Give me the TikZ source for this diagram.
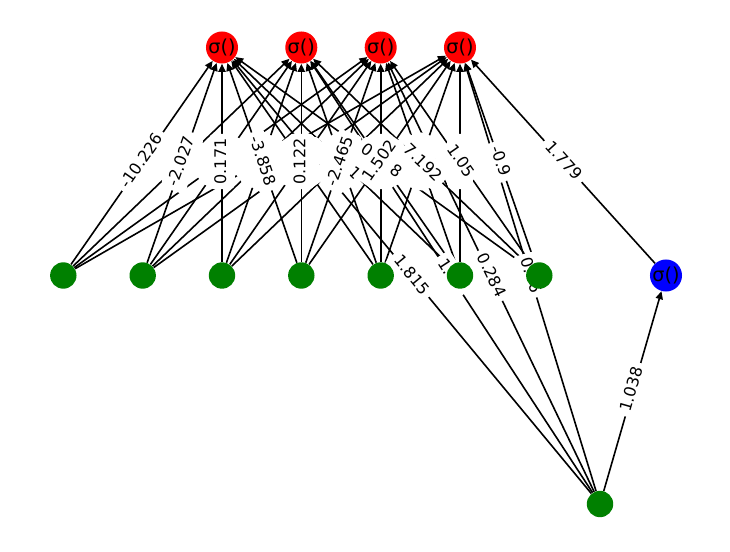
\documentclass[tikz,border=0pt]{standalone}
\usepackage{fontspec}
\setmainfont{DejaVu Sans}
\usetikzlibrary{arrows.meta}
\definecolor{mplred}{RGB}{255,0,0}
\definecolor{mplgreen}{RGB}{0,128,0}
\definecolor{mplblue}{RGB}{0,0,255}
\pgfdeclarelayer{edges}
\pgfdeclarelayer{labels}
\pgfsetlayers{edges,labels,main}
\begin{document}
\begin{tikzpicture}[x=0.625pt,y=-0.625pt,
  neuron/.style={circle,minimum size=16.5pt,inner sep=0pt,font=\fontsize{12}{14}\selectfont},
  innode/.style={neuron,fill=mplgreen},
  outnode/.style={neuron,fill=mplred},
  midnode/.style={neuron,fill=mplblue},
  wire/.style={line width=1pt,-{Triangle[length=5pt,width=4.5pt]}},
  elabel/.style={midway,sloped,fill=white,rounded corners=3pt,inner sep=3pt,
    text height=0.76em,text depth=0.24em,font=\fontsize{10}{12}\selectfont},
]
\useasboundingbox (0,0) rectangle (730,552);
% nodes
\foreach \i/\x in {0/63.3,1/142.7,2/222,3/301.3,4/380.7,5/460,6/539.3}
  \node[innode] (h\i) at (\x,275.5) {};
\foreach \j/\x in {0/222,1/301.3,2/380.7,3/460}
  \node[outnode] (o\j) at (\x,47.5) {σ()};
\node[midnode] (m) at (666,275.5) {σ()};
\node[innode] (b) at (600,504) {};
% edges
\begin{pgfonlayer}{edges}
\foreach \i in {0,...,6}
  \foreach \j in {0,...,3}
    \draw[wire] (h\i) -- (o\j);
\foreach \j in {0,...,3}
  \draw[wire] (b) -- (o\j);
\draw[wire] (b) -- (m);
\draw[wire] (m) -- (o3);
\end{pgfonlayer}
% edge labels
\begin{pgfonlayer}{labels}
\path (h0.center) -- (o0.center) node[elabel] (l00) {-10.226};
\path (h0.center) -- (o1.center) node[elabel] (l01) {\phantom{0.000}};
\path (h0.center) -- (o2.center) node[elabel] (l02) {\phantom{0.000}};
\path (h0.center) -- (o3.center) node[elabel] (l03) {\phantom{0.000}};
\path (h1.center) -- (o0.center) node[elabel] (l10) {-2.027};
\path (h1.center) -- (o1.center) node[elabel] (l11) {\phantom{0.000}};
\path (h1.center) -- (o2.center) node[elabel] (l12) {\phantom{0.000}};
\path (h1.center) -- (o3.center) node[elabel] (l13) {\phantom{0.000}};
\path (h2.center) -- (o0.center) node[elabel] (l20) {0.171};
\path (h2.center) -- (o1.center) node[elabel] (l21) {\phantom{0.000}};
\path (h2.center) -- (o2.center) node[elabel] (l22) {\phantom{0.000}};
\path (h2.center) -- (o3.center) node[elabel] (l23) {\phantom{0.000}};
\path (h4.center) -- (o0.center) node[elabel] (l40) {\phantom{0.000}};
\path (h4.center) -- (o1.center) node[elabel] (l41) {\phantom{0.000}};
\path (h4.center) -- (o2.center) node[elabel] (l42) {\phantom{0.000}};
\path (h4.center) -- (o3.center) node[elabel] (l43) {\phantom{0.000}};
\path (h5.center) -- (o0.center) node[elabel] (l50) {\phantom{0.00}1};
\path (h5.center) -- (o1.center) node[elabel] (l51) {\phantom{0.000}};
\path (h5.center) -- (o2.center) node[elabel] (l52) {\phantom{0.000}};
\path (h5.center) -- (o3.center) node[elabel] (l53) {\phantom{0.000}};
\path (h6.center) -- (o0.center) node[elabel] (l60) {0.\phantom{00}8};
\path (h6.center) -- (o1.center) node[elabel] (l61) {-7.192};
\path (h6.center) -- (o2.center) node[elabel] (l62) {1.05};
\path (h6.center) -- (o3.center) node[elabel] (l63) {-0.9};
\path (h3.center) -- (o0.center) node[elabel] (l30) {-3.858};
\path (h3.center) -- (o1.center) node[elabel] (l31) {0.122};
\path (h3.center) -- (o2.center) node[elabel] (l32) {-2.465};
\path (h3.center) -- (o3.center) node[elabel] (l33) {1.502};
\path (b.center) -- (o0.center) node[elabel] (lb0) {1.815};
\path (b.center) -- (o1.center) node[elabel] (lb1) {1.\phantom{00}};
\path (b.center) -- (o2.center) node[elabel] (lb2) {0.284};
\path (b.center) -- (o3.center) node[elabel] (lb3) {0.\phantom{0}6};
\path (b.center) -- (m.center) node[elabel] (lbm) {1.038};
\path (m.center) -- (o3.center) node[elabel] (lm3) {1.779};
\end{pgfonlayer}
\end{tikzpicture}
\end{document}
